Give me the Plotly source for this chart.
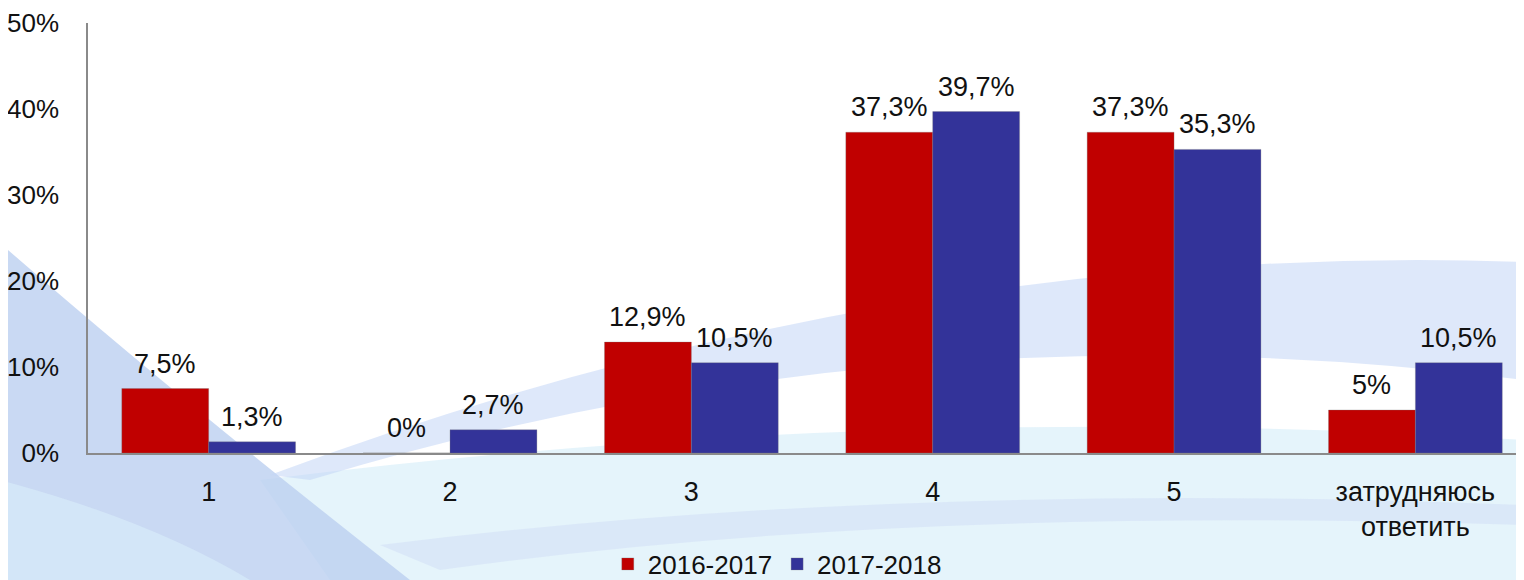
import plotly.graph_objects as go

categories = ["1", "2", "3", "4", "5", "затрудняюсь<br>ответить"]
series_names = ["2016-2017", "2017-2018"]
values_2016_2017 = [7.5, 0, 12.9, 37.3, 37.3, 5]
values_2017_2018 = [1.3, 2.7, 10.5, 39.7, 35.3, 10.5]
y_ticks = [0, 10, 20, 30, 40, 50]
y_tick_labels = ["0%", "10%", "20%", "30%", "40%", "50%"]
colors = ["#C00000", "#333399"]

OFF = 8  # page body margin
W, H = 1524 - OFF, 580 - OFF
ML, MR, MT, MB = 88 - OFF, 0, 23 - OFF, 127
PW, PH = W - ML - MR, H - MT - MB
BARGAP = 0.28


def fmt(v):
    return f"{v:g}".replace(".", ",") + "%"


def P(x, y):
    # page pixel -> paper coords
    return f"{(x - OFF - ML) / PW:.4f},{(OFF + H - MB - y) / PH:.4f}"


fig = go.Figure()
annotations = []
all_series = [values_2016_2017, values_2017_2018]
half = (1 - BARGAP) / 4
for k, (name, vals, col) in enumerate(zip(series_names, all_series, colors)):
    fig.add_trace(go.Bar(
        name=name, x=categories, y=vals,
        marker=dict(color=col, line=dict(color="rgba(120,120,120,0.6)", width=0.5)),
    ))
    off = -half if k == 0 else half
    for i, v in enumerate(vals):
        annotations.append(dict(
            x=i + off, y=v, xref="x", yref="y", text=fmt(v), showarrow=False,
            yanchor="bottom", yshift=8, font=dict(size=27, color="#111111"),
        ))

shapes = [
    # bottom light area
    dict(type="path", xref="paper", yref="paper", layer="below",
         path=f"M{P(260,480)} Q{P(900,400)} {P(1524,440)} L{P(1524,580)} L{P(330,580)} Z",
         fillcolor="rgba(220,240,250,0.75)", line=dict(width=0)),
    dict(type="path", xref="paper", yref="paper", layer="below",
         path=f"M{P(380,545)} Q{P(900,480)} {P(1524,505)} L{P(1524,525)} Q{P(900,505)} {P(440,570)} Z",
         fillcolor="rgba(210,222,246,0.55)", line=dict(width=0)),
    # diagonal band lower-left
    dict(type="path", xref="paper", yref="paper", layer="below",
         path=f"M{P(0,243)} Q{P(180,400)} {P(410,580)} L{P(0,580)} Z",
         fillcolor="rgba(188,207,240,0.8)", line=dict(width=0)),
    dict(type="path", xref="paper", yref="paper", layer="below",
         path=f"M{P(0,480)} Q{P(150,520)} {P(250,580)} L{P(0,580)} Z",
         fillcolor="rgba(215,235,250,0.7)", line=dict(width=0)),
    # rising swoosh band
    dict(type="path", xref="paper", yref="paper", layer="below",
         path=f"M{P(270,475)} Q{P(900,240)} {P(1524,262)} L{P(1524,380)} Q{P(900,300)} {P(310,480)} Z",
         fillcolor="rgba(195,214,245,0.55)", line=dict(width=0)),
]

legend_y = (OFF + H - MB - 564) / PH

fig.update_layout(
    width=W, height=H,
    margin=dict(l=ML, r=MR, t=MT, b=MB, autoexpand=False),
    paper_bgcolor="white", plot_bgcolor="rgba(0,0,0,0)",
    font=dict(family="Liberation Sans, Arial, sans-serif", size=26, color="#111111"),
    barmode="group", bargap=BARGAP, bargroupgap=0,
    shapes=shapes, annotations=annotations,
    showlegend=True,
    legend=dict(orientation="h", x=0.48, xanchor="center", y=legend_y, yanchor="middle",
                font=dict(size=26), bgcolor="rgba(0,0,0,0)", itemwidth=30,
                traceorder="normal"),
    xaxis=dict(range=[-0.5, 5.45], showgrid=False, showline=True, linecolor="#8a8a8a",
               linewidth=1.5, ticks="outside", ticklen=14, tickcolor="rgba(0,0,0,0)",
               tickfont=dict(size=27), zeroline=False, automargin=False),
    yaxis=dict(range=[0, 50], tickmode="array", tickvals=y_ticks, ticktext=y_tick_labels,
               showgrid=False, showline=True, linecolor="#8a8a8a", linewidth=1.5,
               ticks="outside", ticklen=22, tickcolor="rgba(0,0,0,0)",
               tickfont=dict(size=26), zeroline=False, automargin=False),
)

fig.write_html("out.html")
